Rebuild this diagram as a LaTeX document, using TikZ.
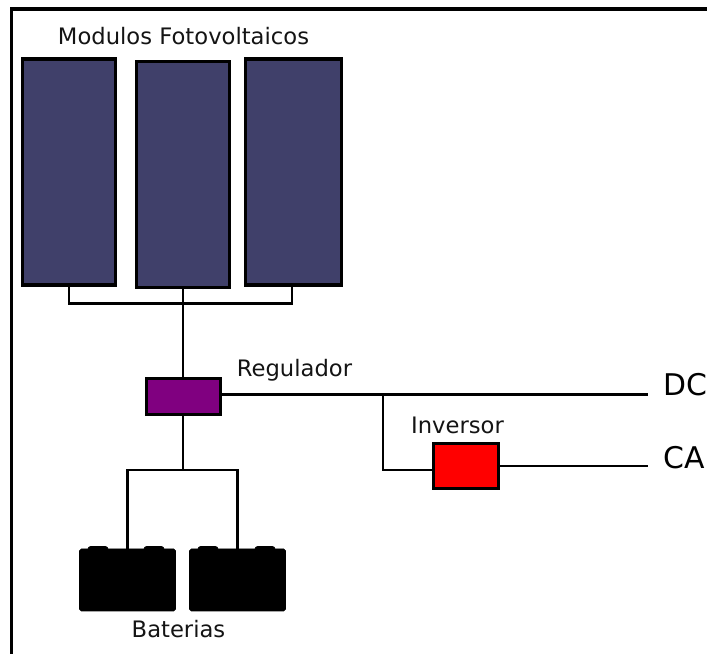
\documentclass[tikz,border=0pt]{standalone}
\usepackage{fontspec}
\setmainfont{DejaVu Sans}
\usetikzlibrary{positioning}
\definecolor{painel}{HTML}{40406A}
\definecolor{roxo}{HTML}{800080}
\tikzstyle{painelbox} = [rectangle, minimum width=1.86cm, minimum height=4.52cm, inner sep=0pt, draw=black, fill=painel, line width=2pt]
\tikzstyle{bateria} = [rectangle, rounded corners=1pt, minimum width=1.92cm, minimum height=1.24cm, inner sep=0pt, draw=black, fill=black]
\tikzstyle{terminal} = [rectangle, rounded corners=1.5pt, minimum width=0.4cm, minimum height=0.12cm, inner sep=0pt, draw=black, fill=black]
\tikzstyle{rotulo} = [inner sep=0pt, font=\fontsize{12.9}{15}\selectfont, text=black!92]
\tikzstyle{saida} = [inner sep=0pt, font=\fontsize{17}{20}\selectfont, text=black]
\tikzstyle{fio} = [line width=1.7pt, line join=miter]

\begin{document}
\begin{tikzpicture}
	\useasboundingbox (0,0) rectangle (14.14,13.08);
	% moldura
	\coordinate (m1) at (0.23,0);
	\coordinate (m2) at (0.23,12.9);
	\coordinate (m3) at (14.14,12.9);
	\draw[line width=2.2pt] (m1) -- (m2) -- (m3);

	% paineis
	\coordinate (j1) at (3.66,7);
	\draw[fio] (1.38,9.64) |- (j1) -| (5.84,9.64);

	\node[painelbox](p1) at (1.38,9.64){};
	\node[painelbox](p2) at (3.66,9.59){};
	\node[painelbox, minimum width=1.92cm](p3) at (5.87,9.64){};
	\node[rotulo](modulos) at (3.67,12.36){Modulos Fotovoltaicos};

	\node[rectangle, draw=black, fill=roxo, line width=1.7pt, minimum width=1.48cm, minimum height=0.72cm, inner sep=0pt](reg) at (3.67,5.15){};
	\node[rotulo](regulador) at (5.89,5.68){Regulador};

	\node[rectangle, draw=black, fill=red, line width=1.7pt, minimum width=1.3cm, minimum height=0.9cm, inner sep=0pt](inv) at (9.32,3.76){};
	\node[rotulo, above=0.16cm of inv, xshift=-0.17cm](inversor){Inversor};

	\node[bateria](b1) at (2.55,1.48){};
	\node[bateria](b2) at (4.75,1.48){};
	\node[terminal](t1) at (1.96,2.09){};
	\node[terminal](t2) at (3.08,2.09){};
	\node[terminal](t3) at (4.16,2.09){};
	\node[terminal](t4) at (5.30,2.09){};
	\node[rotulo](baterias) at (3.57,0.5){Baterias};

	\node[saida, anchor=west](dc) at (13.26,5.39){DC};
	\node[saida, anchor=west](ca) at (13.26,3.93){CA};

	\draw[fio] (p2.south) -- (reg.north -| p2.south);
	% saidas
	\coordinate (j2) at (7.66,5.18);
	\coordinate (fimdc) at (12.96,5.18);
	\coordinate (fimca) at (12.96,3.76);
	\draw[fio] (reg.east |- j2) -- (j2) -- (fimdc);
	\draw[fio] (j2) |- ([yshift=-0.08cm]inv.west);
	\draw[fio] (inv.east) -- (fimca);
	% baterias
	\coordinate (j3) at (3.66,3.68);
	\draw[fio] (reg.south -| j3) -- (j3);
	\draw[fio] (b1.north) |- (j3) -| (b2.north);
\end{tikzpicture}
\end{document}
